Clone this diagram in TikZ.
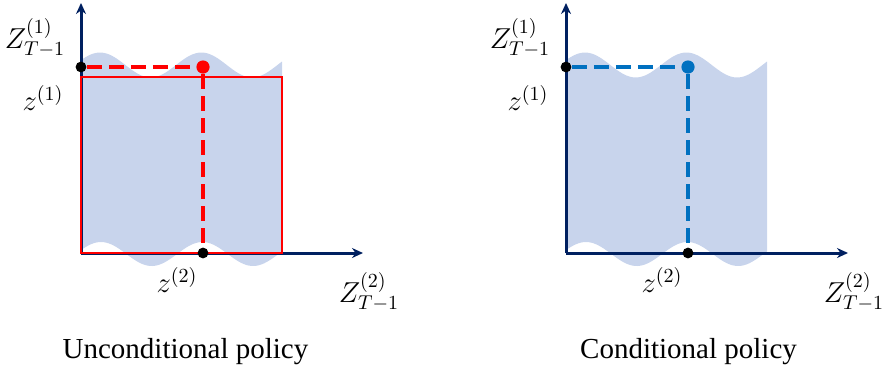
\documentclass[tikz,border=0pt]{standalone}
\usepackage{fontspec}
\setmainfont{Liberation Serif}
\usetikzlibrary{arrows.meta}
\definecolor{axisnavy}{HTML}{002060}
\definecolor{regionfill}{HTML}{C8D4EC}
\definecolor{pointblue}{HTML}{0070C0}

\begin{document}
\begin{tikzpicture}[x=0.5pt,y=0.5pt,>={Stealth[length=5.5pt,width=5pt]},font=\fontsize{14.5}{16}\selectfont]
\tikzset{
  axis/.style={->,draw=axisnavy,line width=1.5pt},
  guide/.style={dash pattern=on 7.5pt off 3.5pt,line width=1.6pt},
  blackdot/.style={circle,fill=black,inner sep=0pt,minimum size=5.4pt},
  pickdot/.style={circle,inner sep=0pt,minimum size=6.6pt},
  lab/.style={font=\fontsize{14}{16}\selectfont}
}
\useasboundingbox (0,0) rectangle (883,372);
\foreach \ox/\pcol/\capx/\captext [count=\i] in {
  81/red/185.5/{Unconditional policy},
  566/pointblue/688.5/{Conditional policy}%
}{
  \begin{scope}[shift={(\ox,119)}]
    \fill[regionfill] plot[domain=0:201,samples=80,variable=\u] (\u,{-1+12*cos(3.55*(\u-20))})
      -- plot[domain=201:0,samples=80,variable=\u] (\u,{188+12.5*cos(3.55*(\u-19))}) -- cycle;
    \coordinate (o\i) at (0,0);
    \coordinate (ytip\i) at (0,250);
    \coordinate (xtip\i) at (282,0);
    \draw[axis] (o\i) -- (ytip\i);
    \draw[axis] (o\i) -- (xtip\i);
    \ifnum\i=1 \draw[red,line width=1.1pt] (o\i) rectangle (201,176); \fi
    \node[blackdot] (ya\i) at (0,186) {};
    \node[pickdot,fill=\pcol] (pt\i) at (122,186) {};
    \node[blackdot] (xa\i) at (122,0) {};
    \draw[guide,\pcol] (ya\i) -- (pt\i) -- (xa\i);
    \node[lab] (zy\i) at (-46,215) {$Z_{T-1}^{(1)}$};
    \node[lab] (sy\i) at (-38,155) {$z^{(1)}$};
    \node[lab] (sx\i) at (96,-27) {$z^{(2)}$};
    \node[lab] (zx\i) at (288,-39) {$Z_{T-1}^{(2)}$};
  \end{scope}
  \node[anchor=base] (cap\i) at (\capx,14) {\captext};
}
\end{tikzpicture}
\end{document}
